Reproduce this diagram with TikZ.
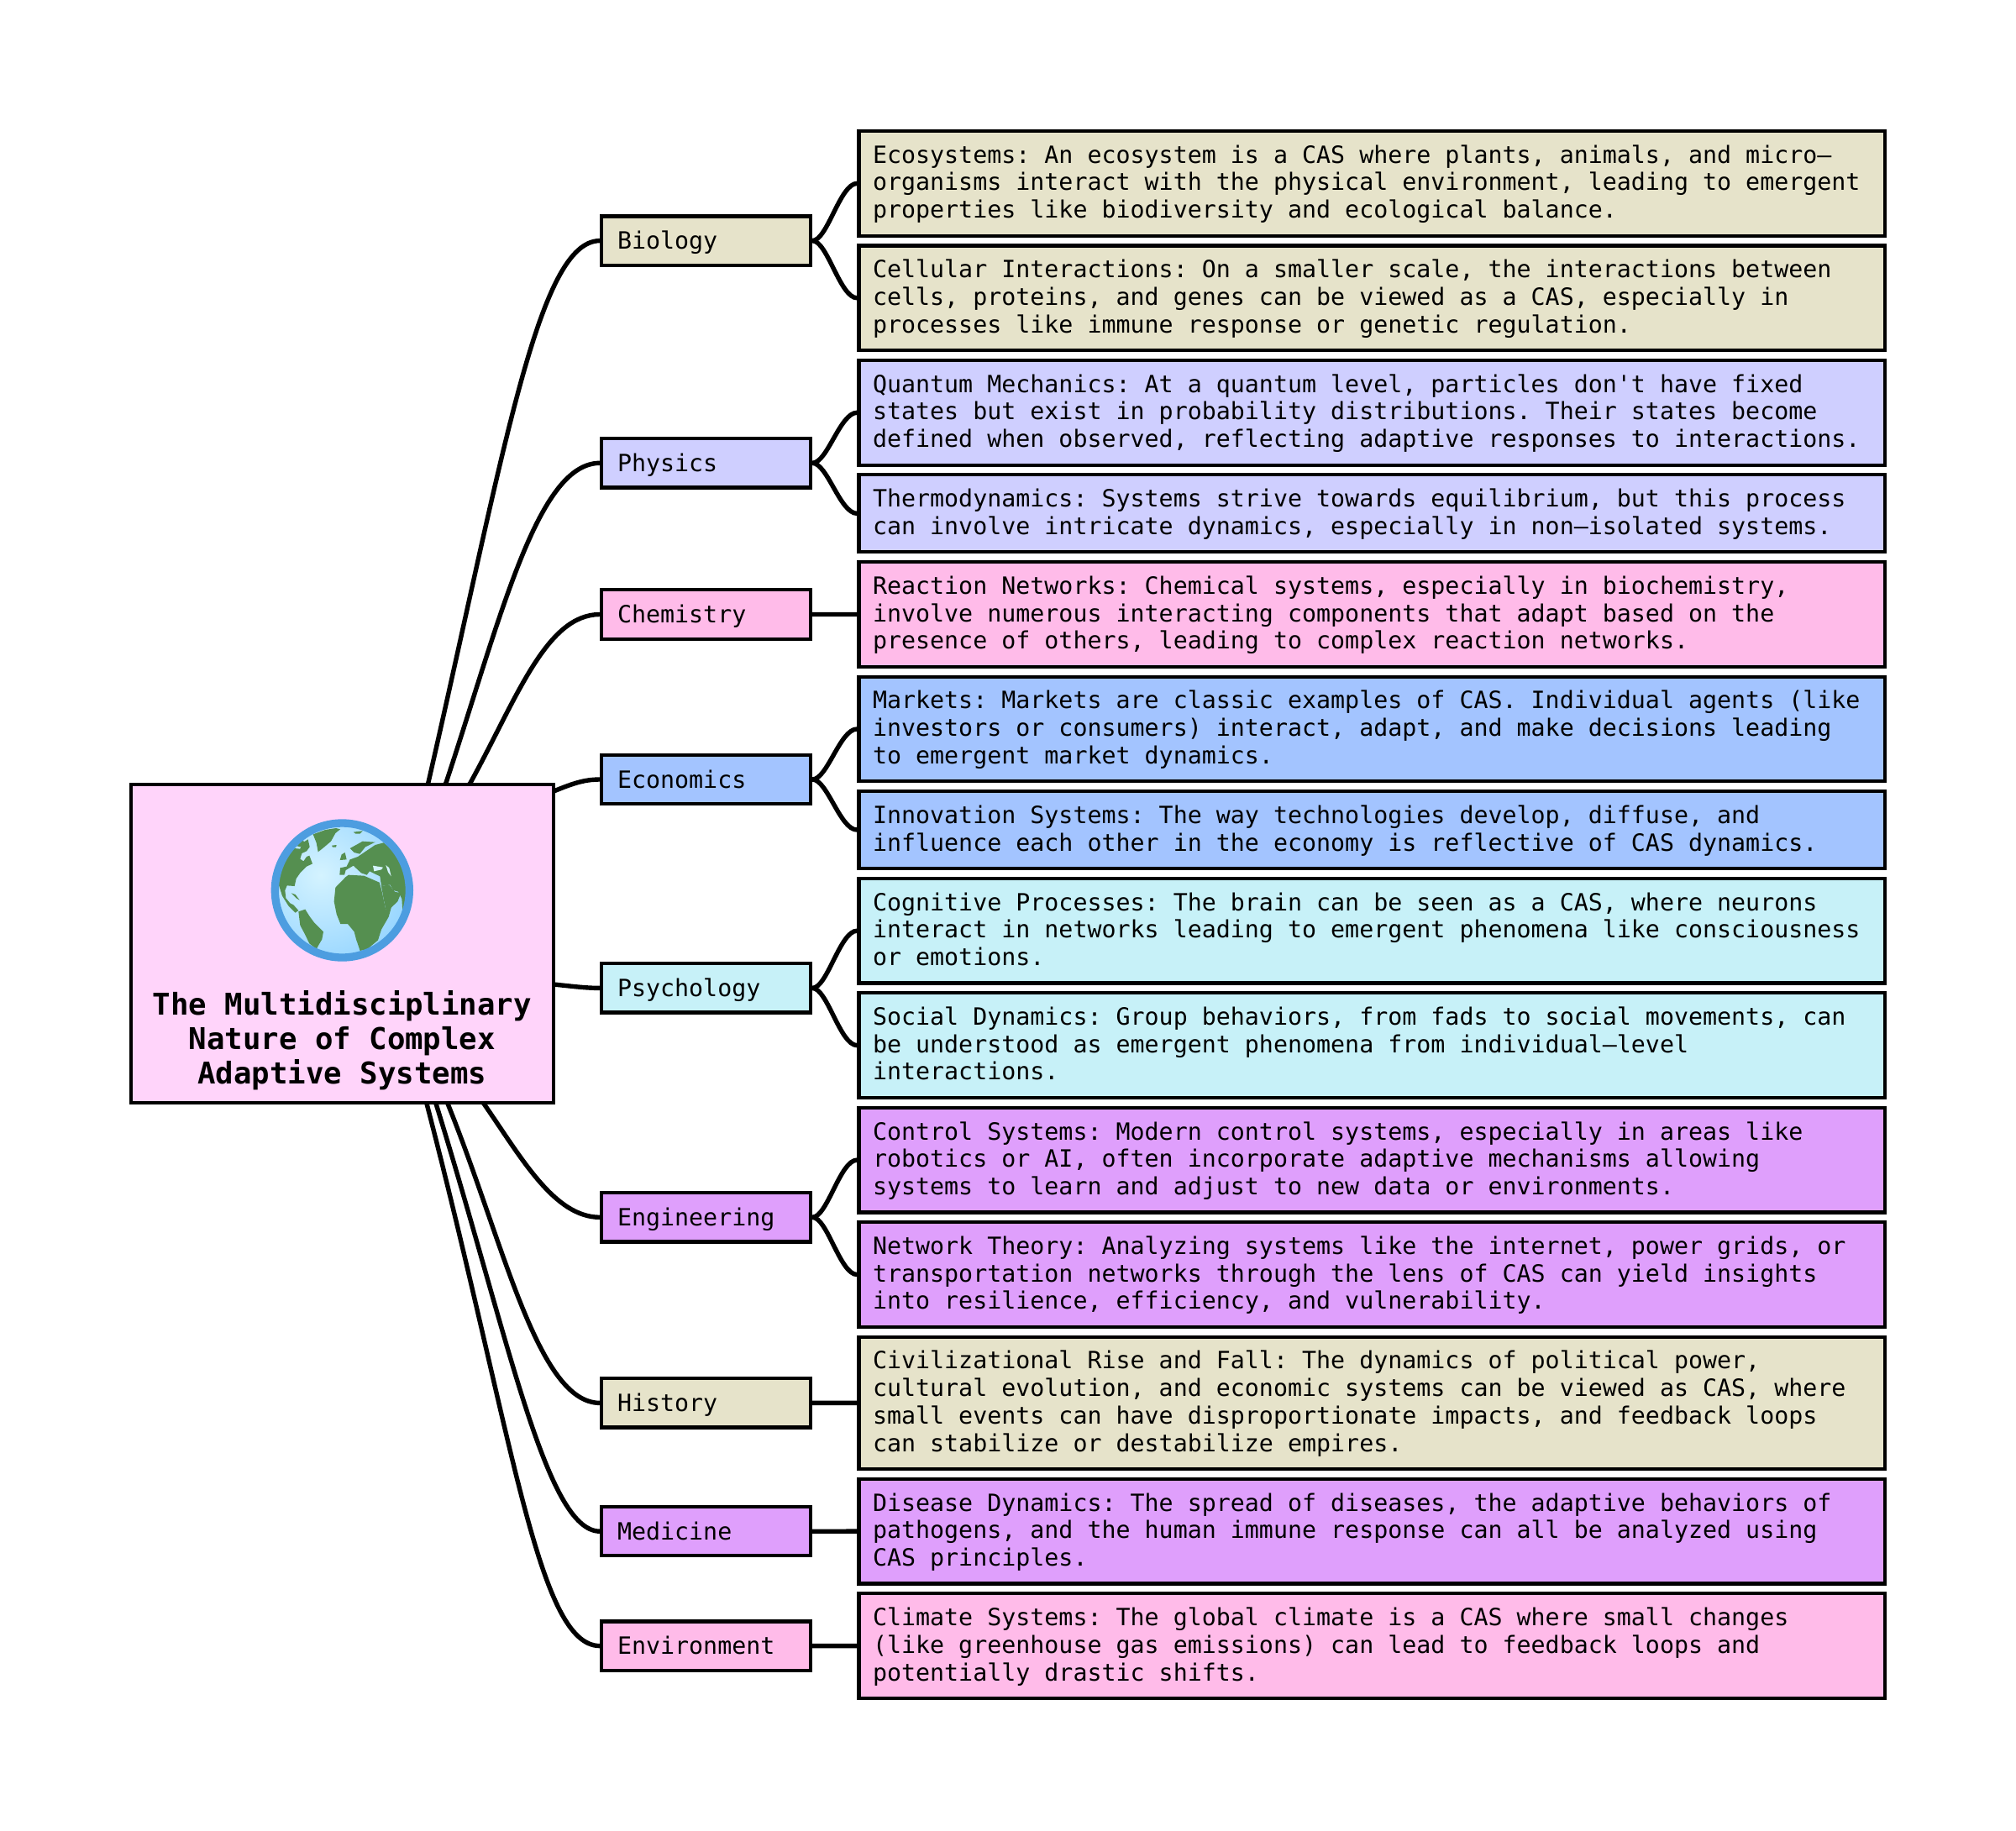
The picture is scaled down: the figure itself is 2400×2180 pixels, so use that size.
\documentclass[tikz,border=0pt]{standalone}
\usepackage{fontspec}
\newfontfamily\dm{DejaVu Sans Mono}
\usetikzlibrary{backgrounds}
\definecolor{cBeige}{HTML}{E6E3CA}
\definecolor{cLav}{HTML}{CFCFFF}
\definecolor{cPink}{HTML}{FFBBE9}
\definecolor{cBlue}{HTML}{A3C4FF}
\definecolor{cCyan}{HTML}{C7F1F8}
\definecolor{cPurp}{HTML}{DF9FFC}
\definecolor{cHub}{HTML}{FFD4FA}
\definecolor{cRing}{HTML}{4D9DE0}
\definecolor{cLand}{HTML}{558F50}
\definecolor{cSeaA}{HTML}{D4F3FF}
\definecolor{cSeaB}{HTML}{98D6FF}
\tikzset{
  leafbox/.style={draw=black,line width=2.1pt,minimum width=610.75pt,text width=594.25pt,inner xsep=8.25pt,inner ysep=0pt,align=flush left,
     font=\dm\fontsize{14.15}{16.35}\selectfont\frenchspacing,
     execute at begin node={\leavevmode\rule{0pt}{11.65pt}},execute at end node={\rule[-3pt]{0pt}{3pt}}},
  leafthree/.style={leafbox,minimum height=62.35pt},
  leaftwo/.style={leafbox,minimum height=46pt},
  leaffour/.style={leafbox,minimum height=78.7pt},
  midbox/.style={draw=black,line width=2.1pt,minimum width=124.35pt,text width=105.65pt,inner xsep=9.35pt,inner ysep=0pt,minimum height=29.15pt,align=flush left,
     font=\dm\fontsize{14.15}{16.35}\selectfont\frenchspacing,
     execute at begin node={\leavevmode\rule{0pt}{13pt}},execute at end node={\rule[-3pt]{0pt}{3pt}}},
  hubbox/.style={draw=black,line width=2.1pt,fill=cHub,minimum width=251.5pt,minimum height=189.5pt,inner sep=0pt},
  hubtitle/.style={align=center,inner sep=0pt,font=\dm\bfseries\fontsize{17.85}{20.5}\selectfont\frenchspacing},
  link/.style={draw=black,line width=2.7pt},
  land/.style={fill=cLand,draw=none}
}
\begin{document}
\begin{tikzpicture}[x=0.5pt,y=-0.5pt]
\useasboundingbox (0,0) rectangle (2400,2180);
% hub
\node[hubbox] (hub) at (407.3,1123.5) {};
\node[hubtitle] (hubtext) at (407.3,1239) {The Multidisciplinary\\Nature of Complex\\Adaptive Systems};
% globe
\begin{scope}[shift={(300,960)},x=0.16667pt,y=-0.16667pt]
  \begin{scope}
    \clip (322,300) circle (240);
    \shade[inner color=cSeaA,outer color=cSeaB] (245,245) circle (330);
    % Greenland
    \fill[land] (218,100)--(262,84)--(300,78)--(315,82)--(298,96)--(282,125)--(255,148)--(236,163)--(230,130)--cycle;
    % North America
    \fill[land] (85,275)--(90,240)--(105,205)--(130,172)--(150,150)--(172,152)--(178,132)--(200,118)--(206,145)--(195,160)--(178,168)--(172,188)--(184,196)--(195,180)--(205,176)--(216,205)--(195,215)--(172,238)--(158,258)--(152,285)--(125,283)--(118,300)--(121,328)--(136,346)--(148,352)--(166,372)--(155,380)--(130,355)--(108,320)--(97,285)--cycle;
    \fill[land] (155,140)--(180,122)--(190,128)--(172,145)--cycle;
    \fill[land] (140,310)--(155,315)--(170,335)--(158,328)--cycle;
    % South America
    \fill[land] (166,376)--(190,368)--(205,392)--(222,415)--(255,448)--(250,475)--(240,492)--(230,510)--(205,490)--(188,455)--(172,425)--cycle;
    % Africa
    \fill[land] (293,340)--(298,290)--(335,252)--(345,245)--(400,248)--(455,272)--(463,300)--(478,370)--(500,352)--(488,395)--(462,440)--(450,478)--(412,510)--(386,516)--(372,475)--(365,448)--(342,420)--(316,420)--(302,385)--cycle;
    % Eurasia
    \fill[land] (313,245)--(315,220)--(338,215)--(350,190)--(378,180)--(400,165)--(440,138)--(470,130)--(510,160)--(540,210)--(560,270)--(560,340)--(538,375)--(535,330)--(522,305)--(505,300)--(493,280)--(462,285)--(457,250)--(432,238)--(420,232)--(410,245)--(390,238)--(362,212)--(335,228)--(330,245)--cycle;
    % Arabia
    \fill[land] (462,285)--(490,280)--(510,305)--(532,310)--(520,340)--(480,378)--(470,330)--cycle;
    % seas inside Eurasia
    \fill[cSeaA] (432,212)--(468,218)--(462,226)--(436,232)--cycle;
    \fill[cSeaA] (478,210)--(490,220)--(497,250)--(486,235)--cycle;
    % Scandinavia and Britain
    \fill[land] (350,150)--(395,125)--(440,128)--(405,145)--(385,170)--(365,165)--cycle;
    \fill[land] (320,172)--(332,165)--(338,190)--(314,192)--cycle;
    \fill[land] (285,140)--(302,138)--(300,146)--(288,146)--cycle;
    \fill[land] (362,92)--(395,88)--(385,98)--(370,98)--cycle;
  \end{scope}
  \draw[cRing,line width=4.67pt] (322,300) circle (240);
\end{scope}
% middle boxes
\node[midbox,fill=cBeige] (bio) at (840.65,286.6) {Biology};
\node[midbox,fill=cLav] (phy) at (840.65,551.3) {Physics};
\node[midbox,fill=cPink] (che) at (840.65,731.5) {Chemistry};
\node[midbox,fill=cBlue] (eco) at (840.65,928) {Economics};
\node[midbox,fill=cCyan] (psy) at (840.65,1176.4) {Psychology};
\node[midbox,fill=cPurp] (eng) at (840.65,1449.3) {Engineering};
\node[midbox,fill=cBeige] (his) at (840.65,1670.4) {History};
\node[midbox,fill=cPurp] (med) at (840.65,1823.2) {Medicine};
\node[midbox,fill=cPink] (env) at (840.65,1959.6) {Environment};
% leaf boxes
\node[leafthree,fill=cBeige] (l1) at (1633.25,218.35) {Ecosystems: An ecosystem is a CAS where plants, animals, and micro–\\organisms interact with the physical environment, leading to emergent\\properties like biodiversity and ecological balance.};
\node[leafthree,fill=cBeige] (l2) at (1633.25,354.8) {Cellular Interactions: On a smaller scale, the interactions between\\cells, proteins, and genes can be viewed as a CAS, especially in\\processes like immune response or genetic regulation.};
\node[leafthree,fill=cLav] (l3) at (1633.25,491.27) {Quantum Mechanics: At a quantum level, particles don't have fixed\\states but exist in probability distributions. Their states become\\defined when observed, reflecting adaptive responses to interactions.};
\node[leaftwo,fill=cLav] (l4) at (1633.25,611.38) {Thermodynamics: Systems strive towards equilibrium, but this process\\can involve intricate dynamics, especially in non–isolated systems.};
\node[leafthree,fill=cPink] (l5) at (1633.25,731.49) {Reaction Networks: Chemical systems, especially in biochemistry,\\involve numerous interacting components that adapt based on the\\presence of others, leading to complex reaction networks.};
\node[leafthree,fill=cBlue] (l6) at (1633.25,867.95) {Markets: Markets are classic examples of CAS. Individual agents (like\\investors or consumers) interact, adapt, and make decisions leading\\to emergent market dynamics.};
\node[leaftwo,fill=cBlue] (l7) at (1633.25,988.06) {Innovation Systems: The way technologies develop, diffuse, and\\influence each other in the economy is reflective of CAS dynamics.};
\node[leafthree,fill=cCyan] (l8) at (1633.25,1108.17) {Cognitive Processes: The brain can be seen as a CAS, where neurons\\interact in networks leading to emergent phenomena like consciousness\\or emotions.};
\node[leafthree,fill=cCyan] (l9) at (1633.25,1244.63) {Social Dynamics: Group behaviors, from fads to social movements, can\\be understood as emergent phenomena from individual–level\\interactions.};
\node[leafthree,fill=cPurp] (l10) at (1633.25,1381.09) {Control Systems: Modern control systems, especially in areas like\\robotics or AI, often incorporate adaptive mechanisms allowing\\systems to learn and adjust to new data or environments.};
\node[leafthree,fill=cPurp] (l11) at (1633.25,1517.55) {Network Theory: Analyzing systems like the internet, power grids, or\\transportation networks through the lens of CAS can yield insights\\into resilience, efficiency, and vulnerability.};
\node[leaffour,fill=cBeige] (l12) at (1633.25,1670.36) {Civilizational Rise and Fall: The dynamics of political power,\\cultural evolution, and economic systems can be viewed as CAS, where\\small events can have disproportionate impacts, and feedback loops\\can stabilize or destabilize empires.};
\node[leafthree,fill=cPurp] (l13) at (1633.25,1823.17) {Disease Dynamics: The spread of diseases, the adaptive behaviors of\\pathogens, and the human immune response can all be analyzed using\\CAS principles.};
\node[leafthree,fill=cPink] (l14) at (1633.25,1959.63) {Climate Systems: The global climate is a CAS where small changes\\(like greenhouse gas emissions) can lead to feedback loops and\\potentially drastic shifts.};
% connectors
\begin{scope}[on background layer]
\draw[link] (hub.center) -- (508,940) .. controls (600,540) and (640,286.6) .. (bio.west);
\draw[link] (hub.center) -- (531,932) .. controls (597,732) and (640,551.3) .. (phy.west);
\draw[link] (hub.center) -- (560,932) .. controls (615,832) and (650,731.5) .. (che.west);
\draw[link] (hub.center) -- (650,946) .. controls (680,933) and (695,928) .. (eco.west);
\draw[link] (hub.center) -- (640,1170) .. controls (680,1174) and (695,1176.4) .. (psy.west);
\draw[link] (hub.center) -- (576,1314) .. controls (621,1379) and (660,1449.3) .. (eng.west);
\draw[link] (hub.center) -- (533,1314) .. controls (600,1480) and (640,1670.4) .. (his.west);
\draw[link] (hub.center) -- (519,1314) .. controls (606,1594) and (650,1823.2) .. (med.west);
\draw[link] (hub.center) -- (508,1314) .. controls (612,1714) and (640,1959.6) .. (env.west);
\draw[link] (bio.east) .. controls (985,286.6) and (1000,218.35) .. (l1.west);
\draw[link] (bio.east) .. controls (985,286.6) and (1000,354.8) .. (l2.west);
\draw[link] (phy.east) .. controls (985,551.3) and (1000,491.27) .. (l3.west);
\draw[link] (phy.east) .. controls (985,551.3) and (1000,611.38) .. (l4.west);
\draw[link] (che.east) -- (l5.west);
\draw[link] (eco.east) .. controls (985,928) and (1000,867.95) .. (l6.west);
\draw[link] (eco.east) .. controls (985,928) and (1000,988.06) .. (l7.west);
\draw[link] (psy.east) .. controls (985,1176.4) and (1000,1108.17) .. (l8.west);
\draw[link] (psy.east) .. controls (985,1176.4) and (1000,1244.63) .. (l9.west);
\draw[link] (eng.east) .. controls (985,1449.3) and (1000,1381.09) .. (l10.west);
\draw[link] (eng.east) .. controls (985,1449.3) and (1000,1517.55) .. (l11.west);
\draw[link] (his.east) -- (l12.west);
\draw[link] (med.east) -- (l13.west);
\draw[link] (env.east) -- (l14.west);
\end{scope}
\end{tikzpicture}
\end{document}
